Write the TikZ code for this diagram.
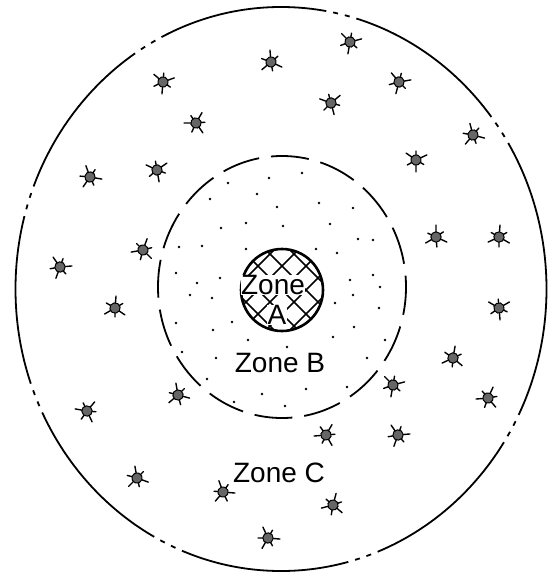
\documentclass[tikz,border=0pt]{standalone}
\usepackage{fontspec}
\newfontfamily\plotfont{Liberation Sans}
\tikzset{
  zonelabel/.style={font=\plotfont\fontsize{28}{25}\selectfont, inner sep=0.3pt},
  outerring/.style={line width=1.8pt, dash pattern=on 170pt off 7pt on 5pt off 7pt on 5pt off 7pt},
  innerring/.style={line width=1.8pt, dash pattern=on 38pt off 12pt},
  hatchline/.style={line width=1.5pt},
  speck/.style={fill=black},
  bug/.pic={
    \draw[line width=1.4pt, line cap=round] (0,0) -- (0:12) (0,0) -- (55:9) (0,0) -- (115:12)
      (0,0) -- (175:10) (0,0) -- (240:12) (0,0) -- (295:9);
    \fill[black!60, draw=black, line width=1pt] (0,0) circle (5.2);
  }
}
\begin{document}
\begin{tikzpicture}[x=1pt, y=-1pt]
\useasboundingbox (0,0) rectangle (549,576);
% outer boundary (Zone C)
\draw[outerring, dash phase=40pt] (281,289) ellipse (265.5 and 282);
% inner boundary (Zone B)
\draw[innerring, dash phase=10pt] (282,287) ellipse (124 and 131);
% Zone B specks
\foreach \x/\y in {302/173,269/178,228/183,210/199,257/194,277/207,319/203,353/208,
  246/223,221/228,283/226,330/224,202/246,179/247,246/249,316/249,337/253,358/239,
  373/240,176/273,197/283,220/278,350/280,373/275,380/287,190/295,212/298,335/303,
  353/295,379/308,176/323,232/322,213/330,354/327,333/337,248/340,287/347,182/352,
  216/358,367/358,385/340,207/379,234/402,262/394,306/389,347/387,285/406,322/366}
  \fill[speck] (\x,\y) circle (1.3);
% Zone A hatch
\begin{scope}
  \clip (282,290) circle (41);
  \foreach \k in {-6,...,6} {
    \draw[hatchline] ({282+24*\k-60},230) -- ({282+24*\k+60},350);
    \draw[hatchline] ({282+24*\k+60},230) -- ({282+24*\k-60},350);
  }
\end{scope}
\draw[line width=2.6pt] (282,290) circle (41);
\node[zonelabel, fill=white] (zoneAword) at (273,285) {Zone};
\node[zonelabel, fill=white] (zoneAletter) at (277,315) {A};
\node[zonelabel] (zoneB) at (280,363) {Zone B};
\node[zonelabel] (zoneC) at (279,473) {Zone C};
% Zone C symbols
\foreach \x/\y/\r in {163/82/20,90/177/-10,157/170/35,143/250/70,60/267/5,
  350/42/15,271/62/-25,331/103/40,196/123/60,399/82/10,473/135/-15,416/160/25,
  436/237/90,499/237/85,115/308/-35,87/411/50,137/478/-20,178/395/100,
  499/308/30,453/358/-40,393/385/15,488/398/65,398/435/5,326/435/-60,
  223/492/110,333/505/75,268/538/-5}
  \pic[rotate=\r] at (\x,\y) {bug};
\end{tikzpicture}
\end{document}
